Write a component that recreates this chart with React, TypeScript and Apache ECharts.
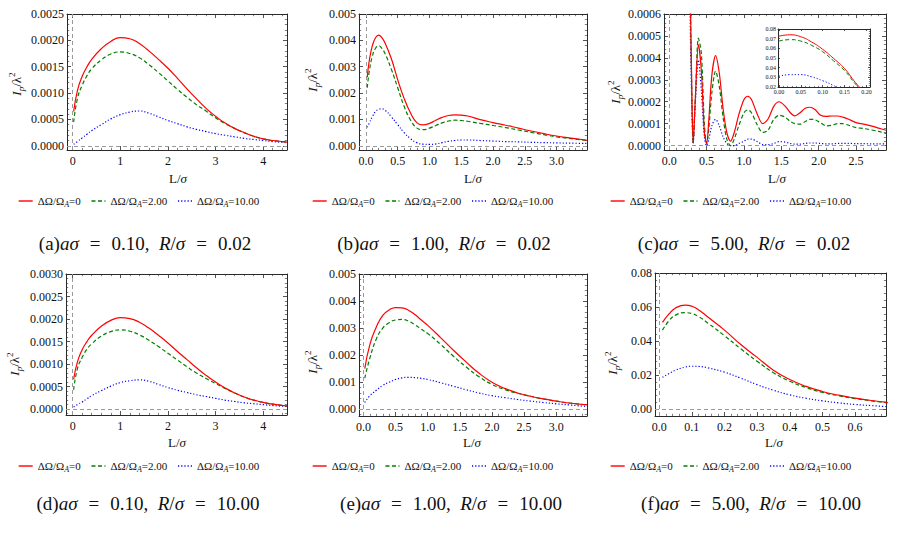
import React, { useEffect, useRef } from 'react';
import * as echarts from 'echarts';

const NAMES = ['ΔΩ/Ω_A=0', 'ΔΩ/Ω_A=2.00', 'ΔΩ/Ω_A=10.00'];
const COLORS = ['rgb(255,0,0)', 'rgb(0,128,0)', 'rgb(0,0,255)'];
const DASHES: any[] = ['solid', [4, 2.5], [1.2, 2]];

// (a) aσ=0.10, R/σ=0.02
const aX = [0.02, 0.1, 0.2, 0.3, 0.4, 0.6, 0.8, 1.0, 1.2, 1.4, 1.6, 1.8, 2.0, 2.2, 2.4, 2.6, 2.8, 3.0, 3.2, 3.4, 3.6, 3.8, 4.0, 4.2, 4.5];
const aRed = [0.00065, 0.00105, 0.00132, 0.0015, 0.00164, 0.00184, 0.00198, 0.00205, 0.00203, 0.00194, 0.0018, 0.00164, 0.00147, 0.00128, 0.00108, 0.00089, 0.00071, 0.00056, 0.00043, 0.00033, 0.00025, 0.00018, 0.00013, 0.0001, 0.00007];
const aGreen = [0.00045, 0.0009, 0.00115, 0.00133, 0.00146, 0.00163, 0.00174, 0.00178, 0.00175, 0.00167, 0.00154, 0.00139, 0.00123, 0.00107, 0.00092, 0.00078, 0.00066, 0.00053, 0.00042, 0.00033, 0.00025, 0.00018, 0.00013, 0.0001, 0.00007];
const aBlue = [0.00003, 0.00008, 0.00015, 0.00022, 0.00029, 0.0004, 0.00051, 0.00059, 0.00064, 0.00066, 0.00062, 0.00055, 0.00048, 0.00042, 0.00036, 0.00031, 0.00027, 0.00023, 0.0002, 0.00017, 0.00014, 0.00012, 0.0001, 0.00008, 0.00006];

// (b) aσ=1.00, R/σ=0.02
const bX = [0.02, 0.05, 0.1, 0.15, 0.2, 0.25, 0.3, 0.4, 0.5, 0.6, 0.7, 0.8, 0.9, 1.0, 1.1, 1.2, 1.3, 1.4, 1.5, 1.6, 1.8, 2.0, 2.2, 2.4, 2.6, 2.8, 3.0, 3.2, 3.48];
const bRed = [0.0026, 0.0032, 0.0038, 0.0041, 0.0042, 0.0041, 0.0039, 0.0033, 0.0025, 0.0018, 0.00125, 0.00088, 0.00079, 0.00085, 0.00097, 0.00108, 0.00115, 0.00117, 0.00116, 0.00113, 0.00099, 0.00088, 0.00078, 0.00067, 0.00056, 0.00046, 0.00037, 0.0003, 0.00021];
const bGreen = [0.0022, 0.0028, 0.0034, 0.0037, 0.0038, 0.0037, 0.0035, 0.0029, 0.0022, 0.0015, 0.00098, 0.00068, 0.00061, 0.00067, 0.00077, 0.00087, 0.00094, 0.00097, 0.00096, 0.00093, 0.00085, 0.00077, 0.00069, 0.0006, 0.00051, 0.00042, 0.00034, 0.00028, 0.0002];
const bBlue = [0.0007, 0.00085, 0.0011, 0.0013, 0.00138, 0.0014, 0.00135, 0.0011, 0.0008, 0.0005, 0.00027, 0.00012, 0.00006, 0.00005, 0.00007, 0.00012, 0.00017, 0.0002, 0.00022, 0.00022, 0.0002, 0.00018, 0.00016, 0.00015, 0.00013, 0.00012, 0.00011, 0.0001, 0.00009];

// (c) aσ=5.00, R/σ=0.02
const cX = [0.2, 0.25, 0.28, 0.3, 0.32, 0.35, 0.39, 0.43, 0.47, 0.5, 0.53, 0.57, 0.62, 0.67, 0.72, 0.77, 0.82, 0.87, 0.93, 1.0, 1.05, 1.1, 1.17, 1.25, 1.32, 1.4, 1.47, 1.55, 1.62, 1.68, 1.75, 1.82, 1.88, 1.95, 2.02, 2.1, 2.18, 2.25, 2.32, 2.4, 2.5, 2.6, 2.7, 2.8, 2.9];
const cRed = [0.012, 0.003, 0.0008, 0.0003, 0.00001, 0.00022, 0.00046, 0.00034, 0.00006, 0.00001, 0.00012, 0.00032, 0.00041, 0.00033, 0.00017, 0.00006, 0.00002, 0.00006, 0.00014, 0.00021, 0.000225, 0.00021, 0.00015, 0.0001, 0.00012, 0.00018, 0.0002, 0.00018, 0.00015, 0.000136, 0.00015, 0.00017, 0.000175, 0.000165, 0.00014, 0.000133, 0.000135, 0.000135, 0.00013, 0.00012, 0.000105, 0.000098, 0.00009, 0.00008, 0.00007];
const cGreen = [0.011, 0.0028, 0.00075, 0.00028, 0.00001, 0.00022, 0.00049, 0.00042, 0.0001, 0.00001, 0.00008, 0.00024, 0.00034, 0.00027, 0.00013, 0.00003, 0.0, 0.00003, 0.00009, 0.00015, 0.000163, 0.00015, 0.0001, 0.00006, 0.00007, 0.00012, 0.000138, 0.00013, 0.00011, 0.0001, 0.000098, 0.00011, 0.00012, 0.000118, 0.000105, 0.00009, 0.000093, 0.0001, 0.0001, 0.000093, 0.000082, 0.000078, 0.000072, 0.000065, 0.000055];
const cBlue = [0.006, 0.002, 0.0006, 0.00022, 0.00001, 0.0002, 0.00039, 0.00025, 0.00004, 0.0, 0.00003, 0.00009, 0.00012, 0.00009, 0.00004, 0.00001, 0.0, 0.0, 0.00001, 0.00002, 0.00003, 0.00003, 0.00002, 0.000005, 0.000004, 0.00001, 0.000018, 0.000016, 0.00001, 0.000007, 0.000007, 0.00001, 0.000012, 0.000012, 0.00001, 0.000008, 0.000008, 0.00001, 0.00001, 0.00001, 0.000009, 0.000009, 0.000008, 0.000008, 0.000008];

// (c) inset
const insX = [0.0, 0.025, 0.05, 0.075, 0.1, 0.125, 0.15, 0.175, 0.2];
const insRed = [0.0725, 0.074, 0.072, 0.0665, 0.059, 0.0495, 0.039, 0.0245, 0.012];
const insGreen = [0.0675, 0.069, 0.0675, 0.063, 0.0565, 0.047, 0.037, 0.023, 0.011];
const insBlue = [0.031, 0.0328, 0.0328, 0.0305, 0.0265, 0.0215, 0.0155, 0.01, 0.006];

// (d) aσ=0.10, R/σ=10.00
const dX = [0.02, 0.1, 0.2, 0.3, 0.4, 0.6, 0.8, 1.0, 1.2, 1.4, 1.6, 1.8, 2.0, 2.2, 2.4, 2.6, 2.8, 3.0, 3.2, 3.4, 3.6, 3.8, 4.0, 4.2, 4.5];
const dRed = [0.00066, 0.00105, 0.00132, 0.0015, 0.00164, 0.00184, 0.00197, 0.00203, 0.00201, 0.00193, 0.0018, 0.00164, 0.00147, 0.00128, 0.0011, 0.00092, 0.00075, 0.0006, 0.00047, 0.00036, 0.00027, 0.0002, 0.00015, 0.00011, 0.00007];
const dGreen = [0.00043, 0.0009, 0.00115, 0.00133, 0.00145, 0.00162, 0.00172, 0.00176, 0.00173, 0.00165, 0.00153, 0.00139, 0.00124, 0.00109, 0.00094, 0.0008, 0.00068, 0.00057, 0.00046, 0.00036, 0.00027, 0.0002, 0.00015, 0.00011, 0.00007];
const dBlue = [0.00005, 0.0001, 0.00016, 0.00023, 0.0003, 0.00041, 0.00051, 0.00059, 0.00063, 0.00065, 0.00062, 0.00055, 0.00048, 0.00042, 0.00037, 0.00032, 0.00028, 0.00024, 0.0002, 0.00017, 0.00014, 0.00012, 0.0001, 0.00008, 0.00006];

// (e) aσ=1.00, R/σ=10.00
const eX = [0.02, 0.1, 0.2, 0.3, 0.4, 0.5, 0.6, 0.7, 0.8, 0.9, 1.0, 1.2, 1.4, 1.6, 1.8, 2.0, 2.2, 2.4, 2.6, 2.8, 3.0, 3.2, 3.48];
const eRed = [0.0015, 0.0024, 0.00304, 0.00347, 0.00367, 0.00376, 0.00375, 0.00366, 0.0035, 0.0033, 0.0031, 0.00265, 0.00218, 0.00174, 0.00133, 0.001, 0.00077, 0.0006, 0.00048, 0.00038, 0.0003, 0.00023, 0.00016];
const eGreen = [0.00115, 0.0019, 0.0026, 0.003, 0.0032, 0.0033, 0.00332, 0.00326, 0.00312, 0.00296, 0.0028, 0.0024, 0.00196, 0.00156, 0.0012, 0.00092, 0.00073, 0.00059, 0.00048, 0.00038, 0.0003, 0.00023, 0.00016];
const eBlue = [0.00025, 0.0005, 0.0007, 0.00088, 0.001, 0.0011, 0.00116, 0.00118, 0.00117, 0.00114, 0.0011, 0.00098, 0.00085, 0.00072, 0.0006, 0.0005, 0.00043, 0.00036, 0.0003, 0.00025, 0.0002, 0.00016, 0.0001];

// (f) aσ=5.00, R/σ=10.00
const fX = [0.01, 0.03, 0.05, 0.08, 0.1, 0.12, 0.15, 0.2, 0.25, 0.3, 0.35, 0.4, 0.45, 0.5, 0.55, 0.6, 0.65, 0.7];
const fRed = [0.051, 0.056, 0.0595, 0.0612, 0.0605, 0.0585, 0.054, 0.0465, 0.038, 0.0305, 0.023, 0.0175, 0.0135, 0.0105, 0.0083, 0.0066, 0.0052, 0.0041];
const fGreen = [0.0465, 0.052, 0.0553, 0.0567, 0.0562, 0.0545, 0.0505, 0.0432, 0.0355, 0.0282, 0.0215, 0.0165, 0.0128, 0.01, 0.008, 0.0063, 0.005, 0.0038];
const fBlue = [0.0188, 0.021, 0.023, 0.0248, 0.0253, 0.0252, 0.0243, 0.0218, 0.0183, 0.0145, 0.0112, 0.0085, 0.0065, 0.005, 0.0038, 0.0029, 0.0022, 0.0016];

const FONT = "'Liberation Serif', 'Times New Roman', serif";
const INK = '#2a2a2a';
const TXT = '#111';

type Panel = {
  xs: number[]; ys: number[][];
  grid: { left: number; top: number; width: number; height: number };
  xr: number[]; xi: number; xd: number;
  yr: number[]; yi: number; yd: number;
  yName?: number[]; xName?: number[]; legend?: number[];
  cap?: [string, string, string, number, number];
  tick: number; lab: number; mx: number; my: number; zero: boolean; smooth: number;
};

const PANELS: Panel[] = [
  { xs: aX, ys: [aRed, aGreen, aBlue], grid: { left: 67, top: 14, width: 220, height: 136 }, xr: [-0.12, 4.5], xi: 1, xd: 0, yr: [-0.00008, 0.0025], yi: 0.0005, yd: 4, yName: [16, 84], xName: [178, 178], legend: [18, 194], cap: ['(a)', '0.10', '0.02', 145, 243], tick: 4, lab: 12, mx: 5, my: 3, zero: true, smooth: 0.5 },
  { xs: bX, ys: [bRed, bGreen, bBlue], grid: { left: 359, top: 14, width: 228, height: 136 }, xr: [-0.11, 3.48], xi: 0.5, xd: 1, yr: [-0.00016, 0.005], yi: 0.001, yd: 3, yName: [312, 80], xName: [473, 178], legend: [312, 194], cap: ['(b)', '1.00', '0.02', 444, 243], tick: 4, lab: 12, mx: 5, my: 3, zero: true, smooth: 0.45 },
  { xs: cX, ys: [cRed, cGreen, cBlue], grid: { left: 664, top: 14, width: 222, height: 136 }, xr: [-0.07, 2.9], xi: 0.5, xd: 1, yr: [-0.00002, 0.0006], yi: 0.0001, yd: 4, yName: [615, 92], xName: [777, 178], legend: [610, 194], cap: ['(c)', '5.00', '0.02', 744, 243], tick: 4, lab: 12, mx: 5, my: 3, zero: true, smooth: 0.3 },
  { xs: dX, ys: [dRed, dGreen, dBlue], grid: { left: 66, top: 274, width: 221, height: 141 }, xr: [-0.14, 4.5], xi: 1, xd: 0, yr: [-0.00013, 0.003], yi: 0.0005, yd: 4, yName: [14, 364], xName: [177, 442], legend: [18, 459], cap: ['(d)', '0.10', '10.00', 148, 503], tick: 4, lab: 12, mx: 5, my: 3, zero: true, smooth: 0.5 },
  { xs: eX, ys: [eRed, eGreen, eBlue], grid: { left: 359, top: 274, width: 228, height: 142 }, xr: [-0.07, 3.48], xi: 0.5, xd: 1, yr: [-0.00025, 0.005], yi: 0.001, yd: 3, yName: [312, 362], xName: [472, 442], legend: [312, 459], cap: ['(e)', '1.00', '10.00', 451, 503], tick: 4, lab: 12, mx: 5, my: 3, zero: true, smooth: 0.5 },
  { xs: fX, ys: [fRed, fGreen, fBlue], grid: { left: 655, top: 273, width: 231, height: 143 }, xr: [-0.013, 0.695], xi: 0.1, xd: 1, yr: [-0.0039, 0.08], yi: 0.02, yd: 2, yName: [612, 363], xName: [774, 442], legend: [610, 459], cap: ['(f)', '5.00', '10.00', 751, 503], tick: 4, lab: 12, mx: 5, my: 3, zero: true, smooth: 0.5 },
  { xs: insX, ys: [insRed, insGreen, insBlue], grid: { left: 778, top: 29, width: 92, height: 58 }, xr: [-0.002, 0.208], xi: 0.05, xd: 2, yr: [0.02, 0.08], yi: 0.01, yd: 2, tick: 2, lab: 6, mx: 2, my: 2, zero: false, smooth: 0.5 },
];

function niceFmt(step: number, dec: number) {
  return (v: number) => {
    const k = v / step;
    return Math.abs(k - Math.round(k)) < 1e-6 ? v.toFixed(dec) : '';
  };
}

function axisPair(gi: number, range: number[], step: number, dec: number, isX: boolean, p: Panel) {
  const common: any = {
    type: 'value', gridIndex: gi, min: range[0], max: range[1],
    minInterval: step, maxInterval: step, splitNumber: 5,
    axisLine: { show: true, onZero: false, lineStyle: { color: INK, width: 1 } },
    axisTick: { show: true, inside: true, length: p.tick, lineStyle: { color: INK, width: 0.8 } },
    minorTick: { show: true, splitNumber: 5, length: p.tick * 0.55, lineStyle: { color: INK, width: 0.6 } },
    splitLine: { show: false }, minorSplitLine: { show: false },
  };
  const main = {
    ...common, position: isX ? 'bottom' : 'left',
    axisLabel: { show: true, margin: isX ? p.mx : p.my, fontFamily: FONT, fontSize: p.lab, color: TXT, formatter: niceFmt(step, dec), showMinLabel: true, showMaxLabel: true, hideOverlap: false },
  };
  const mirror = { ...common, position: isX ? 'top' : 'right', axisLabel: { show: false } };
  return [main, mirror];
}

function buildOption() {
  const grid: any[] = [];
  const xAxis: any[] = [];
  const yAxis: any[] = [];
  const series: any[] = [];
  const legend: any[] = [];
  const graphic: any[] = [];

  PANELS.forEach((p, gi) => {
    grid.push({ ...p.grid, containLabel: false, show: false });
    xAxis.push(...axisPair(gi, p.xr, p.xi, p.xd, true, p));
    yAxis.push(...axisPair(gi, p.yr, p.yi, p.yd, false, p));
    p.ys.forEach((ys, si) => {
      const s: any = {
        type: 'line', name: NAMES[si], xAxisIndex: 2 * gi, yAxisIndex: 2 * gi,
        data: p.xs.map((x, i) => [x, ys[i]]),
        symbol: 'none', showSymbol: false, smooth: p.smooth, clip: true, silent: true,
        lineStyle: { color: COLORS[si], width: gi === 6 ? 1 : 1.2, type: DASHES[si] },
        itemStyle: { color: COLORS[si] },
        z: 3 + (2 - si),
      };
      if (si === 0 && p.zero) {
        s.markLine = {
          silent: true, symbol: ['none', 'none'], label: { show: false },
          lineStyle: { color: '#9a9a9a', type: [4, 3], width: 1 },
          data: [{ xAxis: 0 }, { yAxis: 0 }],
          z: 1,
        };
      }
      series.push(s);
    });
    if (p.legend) {
      legend.push({
        data: NAMES, left: p.legend[0], top: p.legend[1], orient: 'horizontal',
        itemWidth: 14, itemHeight: 10, itemGap: 10, padding: 0, selectedMode: false,
        itemStyle: { opacity: 0 },
        lineStyle: { width: 1.4 },
        textStyle: {
          fontFamily: FONT, fontSize: 11, color: TXT, lineHeight: 14,
          rich: { s: { fontFamily: FONT, fontSize: 8, lineHeight: 8, fontStyle: 'italic', verticalAlign: 'bottom', color: TXT } },
        },
        formatter: (n: string) => n.replace('_A', '{s|A}'),
      });
    }
    if (p.yName) {
      graphic.push({
        type: 'text', x: p.yName[0], y: p.yName[1], rotation: Math.PI / 2, silent: true,
        style: {
          text: '{i|I}{s|p}/λ{u|2}', fontFamily: FONT, fontSize: 13, fill: TXT, lineHeight: 18,
          align: 'center', verticalAlign: 'middle',
          rich: {
            i: { fontFamily: FONT, fontSize: 13, fontStyle: 'italic', fill: TXT, lineHeight: 18 },
            s: { fontFamily: FONT, fontSize: 9, fontStyle: 'italic', fill: TXT, lineHeight: 9, verticalAlign: 'bottom' },
            u: { fontFamily: FONT, fontSize: 9, fill: TXT, lineHeight: 9, verticalAlign: 'top' },
          },
        },
      });
    }
    if (p.xName) {
      graphic.push({
        type: 'text', x: p.xName[0], y: p.xName[1], silent: true,
        style: {
          text: 'L/{i|σ}', fontFamily: FONT, fontSize: 13, fill: TXT,
          align: 'center', verticalAlign: 'middle',
          rich: { i: { fontFamily: FONT, fontSize: 13, fontStyle: 'italic', fill: TXT } },
        },
      });
    }
    if (p.cap) {
      const [lab, a, r, cx, cy] = p.cap;
      graphic.push({
        type: 'text', x: cx, y: cy, silent: true,
        style: {
          text: `${lab}{i|aσ}{e|=}${a},  {i|R}/{i|σ}{e|=}${r}`,
          fontFamily: FONT, fontSize: 19, fill: TXT, align: 'center', verticalAlign: 'middle',
          rich: {
            i: { fontFamily: FONT, fontSize: 19, fontStyle: 'italic', fill: TXT },
            e: { fontFamily: FONT, fontSize: 19, fill: TXT, padding: [0, 11, 0, 11] },
          },
        },
      });
    }
  });

  return { animation: false, backgroundColor: '#fff', grid, xAxis, yAxis, series, legend, graphic };
}

export default function App() {
  const ref = useRef<HTMLDivElement>(null);
  useEffect(() => {
    document.body.style.margin = '0';
    const chart = echarts.init(ref.current as HTMLDivElement, null, { renderer: 'svg' });
    chart.setOption(buildOption() as any);
    return () => chart.dispose();
  }, []);
  return <div ref={ref} style={{ position: 'absolute', left: 0, top: 0, width: 898, height: 554, background: '#fff' }} />;
}
